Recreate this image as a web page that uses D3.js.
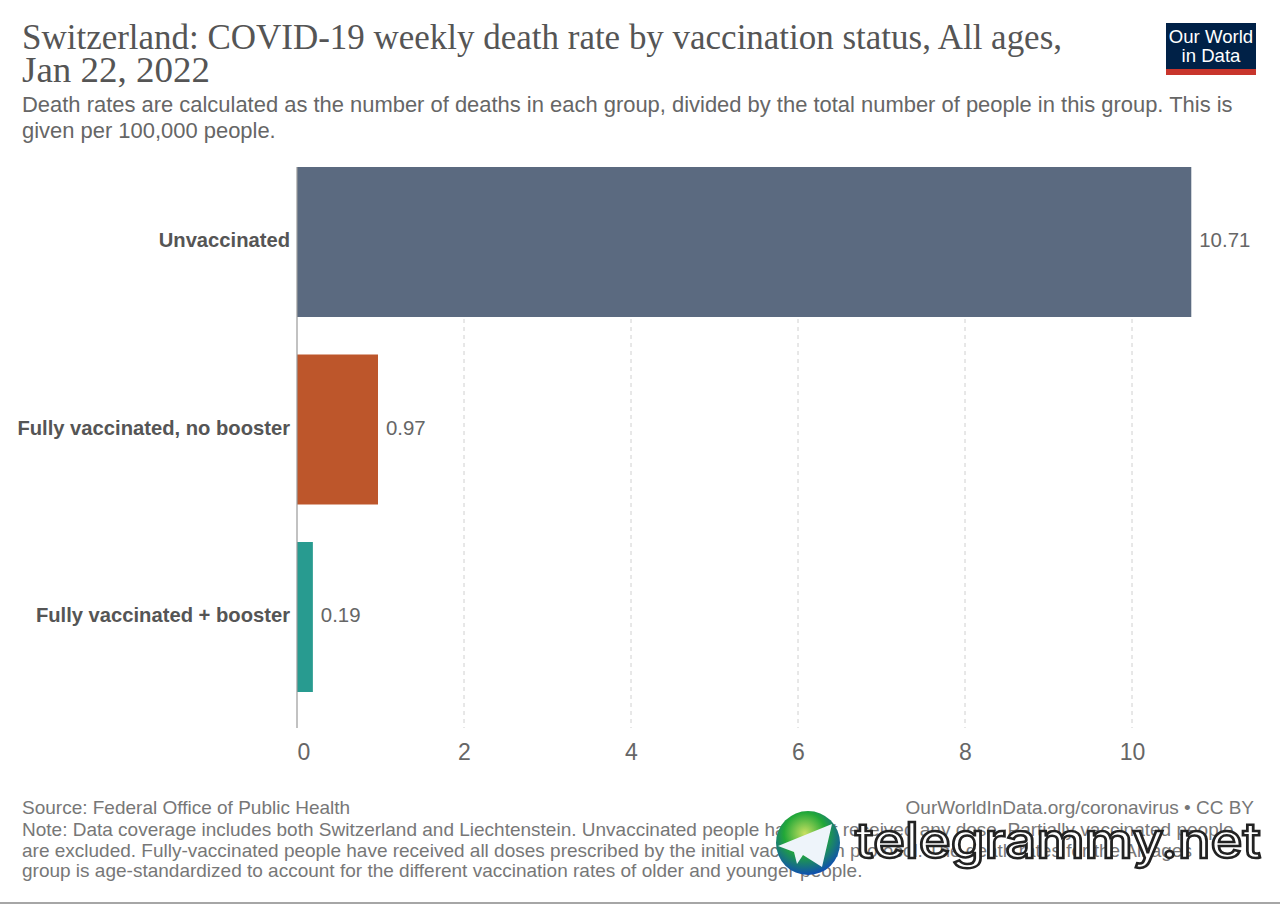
<!DOCTYPE html>
<html>
<head>
<meta charset="utf-8">
<script src="https://cdn.jsdelivr.net/npm/d3@7"></script>
<style>
html, body { margin: 0; padding: 0; background: #fff; }
svg { display: block; }
text { font-family: "Liberation Sans", sans-serif; }
.title { font-family: "Liberation Serif", serif; font-size: 35px; fill: #555; }
.subtitle { font-size: 21.95px; fill: #666; }
.footer { font-size: 19px; fill: #777; }
.cat { font-size: 20.2px; font-weight: bold; fill: #555; }
.val { font-size: 20.4px; fill: #666; }
.tick text { font-size: 23px; fill: #666; }
</style>
</head>
<body>
<div id="chart"></div>
<script>
const FRAME_WIDTH = 1280;
const FRAME_HEIGHT = 904;

const categories = ["Unvaccinated", "Fully vaccinated, no booster", "Fully vaccinated + booster"];
const values = [10.71, 0.97, 0.19];
const colors = ["#56657c", "#bb5124", "#21988c"];
const x_ticks = [0, 2, 4, 6, 8, 10];

const title_lines = ["Switzerland: COVID-19 weekly death rate by vaccination status, All ages,", "Jan 22, 2022"];
const subtitle_lines = ["Death rates are calculated as the number of deaths in each group, divided by the total number of people in this group. This is", "given per 100,000 people."];
// the middle of the note lies under the watermark in the reference
const note_lines = [
    "Note: Data coverage includes both Switzerland and Liechtenstein. Unvaccinated people have not received any dose. Partially vaccinated people",
    "are excluded. Fully-vaccinated people have received all doses prescribed by the initial vaccination protocol. The death rates for the All ages",
    "group is age-standardized to account for the different vaccination rates of older and younger people."
];

const SVG = d3.select("#chart")
    .append("svg")
    .attr("width", FRAME_WIDTH)
    .attr("height", FRAME_HEIGHT);

// x scale: 0 sits at 297px, 10 at 1132px
const x = d3.scaleLinear().domain([0, 10]).range([297, 1132]);
const y = d3.scaleBand().domain(categories).range([167, 692]).paddingInner(0.2);
const AXIS_BOTTOM = 728;

// ------------ HEADER -----------------
SVG.selectAll(".title").data(title_lines).enter().append("text")
    .attr("class", "title")
    .attr("x", 22)
    .attr("y", (d, i) => 49 + i * 33)
    .attr("textLength", (d, i) => i == 0 ? 1040 : 188)
    .attr("lengthAdjust", "spacingAndGlyphs")
    .text(d => d);
SVG.selectAll(".subtitle").data(subtitle_lines).enter().append("text")
    .attr("class", "subtitle")
    .attr("x", 22)
    .attr("y", (d, i) => 112 + i * 26)
    .text(d => d);

// logo
const LOGO = SVG.append("g").attr("transform", "translate(1166,23)");
LOGO.append("rect").attr("width", 90).attr("height", 52).attr("fill", "#002147");
LOGO.append("rect").attr("y", 46).attr("width", 90).attr("height", 6).attr("fill", "#c8352c");
["Our World", "in Data"].forEach((t, i) => {
    LOGO.append("text").attr("x", 45).attr("y", 20 + i * 19)
        .attr("text-anchor", "middle").attr("font-size", 18.6).attr("fill", "#fff").text(t);
});

// ------------ GRID AND BARS -----------------
// dashed grid sits under the bars, which let a little of it through
SVG.append("g").selectAll("line")
    .data(x_ticks.slice(1)).enter().append("line")
    .attr("x1", d => x(d)).attr("x2", d => x(d))
    .attr("y1", 167).attr("y2", AXIS_BOTTOM)
    .attr("stroke", "#d0d0d0")
    .attr("stroke-dasharray", "4,4");

SVG.append("g").selectAll("rect")
    .data(categories).enter().append("rect")
    .attr("x", x(0))
    .attr("y", d => y(d))
    .attr("width", (d, i) => x(values[i]) - x(0))
    .attr("height", y.bandwidth())
    .attr("fill", (d, i) => colors[i])
    .attr("fill-opacity", 0.97);

SVG.append("line")
    .attr("x1", x(0)).attr("x2", x(0))
    .attr("y1", 167).attr("y2", AXIS_BOTTOM)
    .attr("stroke", "#999")
    .attr("stroke-width", 1.2);

// Add X-axis
const X_AXIS = SVG.append("g")
    .attr("transform", "translate(0," + AXIS_BOTTOM + ")")
    .call(d3.axisBottom(x).tickValues(x_ticks).tickSize(0).tickPadding(16));
X_AXIS.select(".domain").remove();
// first label starts at the axis rather than centring on it
X_AXIS.selectAll(".tick text")
    .style("text-anchor", d => d == 0 ? "start" : "middle");

SVG.selectAll(".cat").data(categories).enter().append("text")
    .attr("class", "cat")
    .attr("x", 290)
    .attr("y", d => y(d) + y.bandwidth() / 2 + 5)
    .attr("text-anchor", "end")
    .text(d => d);

SVG.selectAll(".val").data(values).enter().append("text")
    .attr("class", "val")
    .attr("x", d => x(d) + 8)
    .attr("y", (d, i) => y(categories[i]) + y.bandwidth() / 2 + 5)
    .text(d => d.toFixed(2));

// ------------ FOOTER -----------------
SVG.append("text").attr("class", "footer").attr("x", 22).attr("y", 814)
    .text("Source: Federal Office of Public Health");
SVG.append("text").attr("class", "footer").attr("x", 1254).attr("y", 814)
    .attr("text-anchor", "end")
    .text("OurWorldInData.org/coronavirus \u2022 CC BY");
SVG.selectAll(".note").data(note_lines).enter().append("text")
    .attr("class", "footer note")
    .attr("x", 22)
    .attr("y", (d, i) => 836 + i * 20.5)
    .text(d => d);

SVG.append("line")
    .attr("x1", 0).attr("x2", FRAME_WIDTH)
    .attr("y1", 903).attr("y2", 903)
    .attr("stroke", "#888").attr("stroke-width", 1.5);

// ------------ WATERMARK -----------------
const defs = SVG.append("defs");
const GLOBE = defs.append("radialGradient").attr("id", "globe").attr("cx", "45%").attr("cy", "35%").attr("r", "65%");
GLOBE.append("stop").attr("offset", "0%").attr("stop-color", "#c8e060");
GLOBE.append("stop").attr("offset", "50%").attr("stop-color", "#22a838");
GLOBE.append("stop").attr("offset", "100%").attr("stop-color", "#0f4fb0");

const MARK = SVG.append("g");
MARK.append("circle").attr("cx", 808).attr("cy", 843).attr("r", 32).attr("fill", "url(#globe)");
MARK.append("path")
    .attr("d", d3.line()([[778, 846], [832, 824], [822, 867], [803, 855], [797, 864], [794, 852]]))
    .attr("fill", "#eef4fa");
MARK.append("text")
    .attr("x", 855).attr("y", 858)
    .attr("font-size", 49)
    .style("font-family", "Inter")
    .attr("font-weight", 500)
    .attr("fill", "#fff")
    .attr("stroke", "#222")
    .attr("stroke-width", 2.5)
    .attr("textLength", 406)
    .attr("lengthAdjust", "spacingAndGlyphs")
    .text("telegrammy.net");
</script>
</body>
</html>
